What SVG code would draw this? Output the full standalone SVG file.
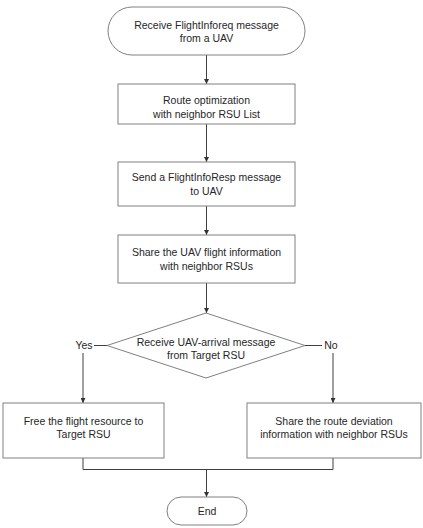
<svg xmlns="http://www.w3.org/2000/svg" width="423" height="528" viewBox="0 0 423 528">
<defs>
<marker id="arr" viewBox="0 0 10 10" refX="10" refY="5" markerWidth="5" markerHeight="5" orient="auto" markerUnits="userSpaceOnUse">
<path d="M0,0 L10,5 L0,10 z" fill="#333"/>
</marker>
</defs>
<style>
.shape{fill:#fff;stroke:#808080;stroke-width:1}
.conn{fill:none;stroke:#404040;stroke-width:1}
text{font-family:"Liberation Sans",Arial,sans-serif;font-size:10.5px;fill:#262626;text-anchor:middle}
</style>
<rect width="423" height="528" fill="#fff"/>
<g id="connectors">
<line class="conn" x1="206.5" y1="55" x2="206.5" y2="84" marker-end="url(#arr)"/>
<line class="conn" x1="206.5" y1="124" x2="206.5" y2="162" marker-end="url(#arr)"/>
<line class="conn" x1="206.5" y1="206" x2="206.5" y2="235" marker-end="url(#arr)"/>
<line class="conn" x1="206.5" y1="283" x2="206.5" y2="313" marker-end="url(#arr)"/>
<line class="conn" x1="94" y1="345.5" x2="107" y2="345.5"/>
<line class="conn" x1="305" y1="345.5" x2="322" y2="345.5"/>
<line class="conn" x1="83" y1="353" x2="83" y2="403" marker-end="url(#arr)"/>
<line class="conn" x1="333" y1="353" x2="333" y2="403" marker-end="url(#arr)"/>
<polyline class="conn" points="83,458 83,469.5 333,469.5 333,458"/>
<line class="conn" x1="206.5" y1="469.5" x2="206.5" y2="497" marker-end="url(#arr)"/>
<text x="84" y="349">Yes</text>
<text x="331" y="349">No</text>
</g>
<g id="start">
<rect class="shape" x="108" y="7" width="197" height="48" rx="24" ry="24"/>
<text x="206.5" y="29">Receive FlightInforeq message</text>
<text x="206.5" y="42">from a UAV</text>
</g>
<g id="route-opt">
<rect class="shape" x="118" y="84" width="177" height="40"/>
<text x="206.5" y="104">Route optimization</text>
<text x="206.5" y="118">with neighbor RSU List</text>
</g>
<g id="send-resp">
<rect class="shape" x="118" y="162" width="177" height="44"/>
<text x="206.5" y="181">Send a FlightInfoResp message</text>
<text x="206.5" y="195">to UAV</text>
</g>
<g id="share-info">
<rect class="shape" x="118" y="235" width="177" height="48"/>
<text x="206.5" y="256">Share the UAV flight information</text>
<text x="206.5" y="270">with neighbor RSUs</text>
</g>
<g id="decision">
<polygon class="shape" points="206,313 305,345.5 206,378 107,345.5"/>
<text x="206" y="346">Receive UAV-arrival message</text>
<text x="206" y="359">from Target RSU</text>
</g>
<g id="free-resource">
<rect class="shape" x="3" y="403" width="161" height="55"/>
<text x="83.5" y="425">Free the flight resource to</text>
<text x="83.5" y="438">Target RSU</text>
</g>
<g id="share-deviation">
<rect class="shape" x="247" y="403" width="174" height="55"/>
<text x="334" y="425">Share the route deviation</text>
<text x="334" y="438">information with neighbor RSUs</text>
</g>
<g id="end">
<rect class="shape" x="167" y="497" width="80" height="28" rx="14" ry="14"/>
<text x="207" y="515">End</text>
</g>
</svg>
